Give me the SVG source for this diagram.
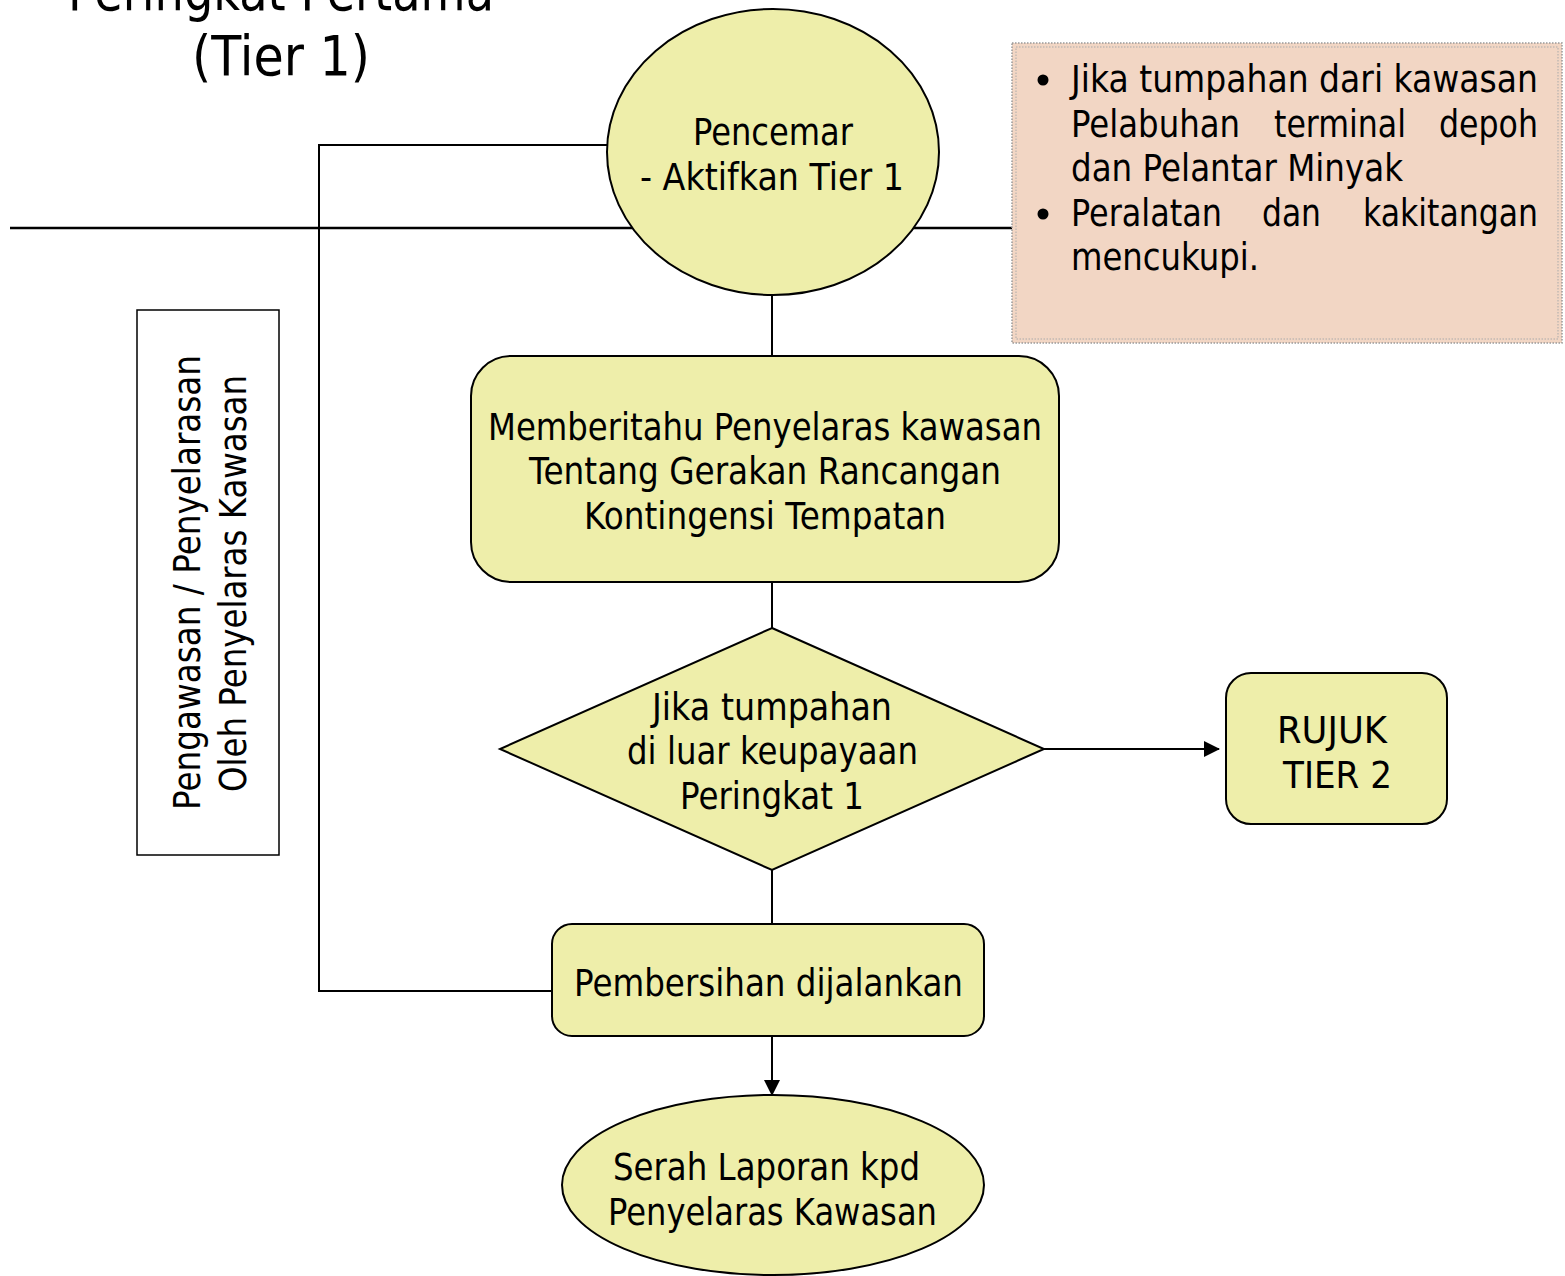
<svg xmlns="http://www.w3.org/2000/svg" width="1565" height="1276" viewBox="0 0 1565 1276">
<style>
text{font-family:"DejaVu Sans","Liberation Sans",sans-serif;fill:#000;font-size:37px}
.node{fill:#eeeeaa;stroke:#000;stroke-width:2}
.ln{fill:none;stroke:#000;stroke-width:2}
.title{font-size:55px}
</style>
<defs>
<marker id="ah" markerUnits="userSpaceOnUse" markerWidth="16" markerHeight="16" refX="15" refY="8" orient="auto">
<path d="M0,0 L16,8 L0,16 Z" fill="#000"/>
</marker>
</defs>
<rect width="1565" height="1276" fill="#fff"/>
<g id="title">
<text class="title" x="68" y="10" textLength="426" lengthAdjust="spacingAndGlyphs">Peringkat Pertama</text>
<text class="title" x="192" y="75" textLength="178" lengthAdjust="spacingAndGlyphs">(Tier 1)</text>
</g>
<g id="connectors">
<line x1="10" y1="228" x2="1013" y2="228" stroke="#000" stroke-width="2.5"/>
<polyline class="ln" points="607,145 319,145 319,991 552,991"/>
<line class="ln" x1="772" y1="295" x2="772" y2="356"/>
<line class="ln" x1="772" y1="582" x2="772" y2="628"/>
<line class="ln" x1="772" y1="870" x2="772" y2="924"/>
<line class="ln" x1="772" y1="1036" x2="772" y2="1095" marker-end="url(#ah)"/>
<line class="ln" x1="1044" y1="749" x2="1219" y2="749" marker-end="url(#ah)"/>
</g>
<g id="pencemar">
<ellipse class="node" cx="773" cy="152" rx="166" ry="143"/>
<text x="693" y="145" textLength="160" lengthAdjust="spacingAndGlyphs">Pencemar</text>
<text x="640" y="190" textLength="264" lengthAdjust="spacingAndGlyphs">- Aktifkan Tier 1</text>
</g>
<g id="note">
<rect x="1012" y="43" width="550" height="300" fill="#f2d6c4" stroke="#999" stroke-width="1.5" stroke-dasharray="1.5 1.5"/>
<rect x="1016" y="47" width="542" height="292" fill="none" stroke="#aaa" stroke-width="1" stroke-dasharray="1.5 1.5"/>
<circle cx="1043" cy="80" r="5.5" fill="#000"/>
<circle cx="1043" cy="214" r="5.5" fill="#000"/>
<text x="1071" y="92" textLength="467" lengthAdjust="spacingAndGlyphs">Jika tumpahan dari kawasan</text>
<text x="1071" y="137" textLength="169" lengthAdjust="spacingAndGlyphs">Pelabuhan</text>
<text x="1274" y="137" textLength="132" lengthAdjust="spacingAndGlyphs">terminal</text>
<text x="1439" y="137" textLength="99" lengthAdjust="spacingAndGlyphs">depoh</text>
<text x="1071" y="181" textLength="332" lengthAdjust="spacingAndGlyphs">dan Pelantar Minyak</text>
<text x="1071" y="226" textLength="151" lengthAdjust="spacingAndGlyphs">Peralatan</text>
<text x="1262" y="226" textLength="59" lengthAdjust="spacingAndGlyphs">dan</text>
<text x="1363" y="226" textLength="175" lengthAdjust="spacingAndGlyphs">kakitangan</text>
<text x="1071" y="270" textLength="188" lengthAdjust="spacingAndGlyphs">mencukupi.</text>
</g>
<g id="pengawasan">
<rect x="137" y="310" width="142" height="545" fill="#fff" stroke="#000" stroke-width="1.5"/>
<text transform="translate(200,810) rotate(-90)" textLength="455" lengthAdjust="spacingAndGlyphs">Pengawasan / Penyelarasan</text>
<text transform="translate(246,792) rotate(-90)" textLength="417" lengthAdjust="spacingAndGlyphs">Oleh Penyelaras Kawasan</text>
</g>
<g id="memberitahu">
<rect class="node" x="471" y="356" width="588" height="226" rx="40" ry="40"/>
<text x="488" y="440" textLength="554" lengthAdjust="spacingAndGlyphs">Memberitahu Penyelaras kawasan</text>
<text x="529" y="484" textLength="472" lengthAdjust="spacingAndGlyphs">Tentang Gerakan Rancangan</text>
<text x="584" y="529" textLength="362" lengthAdjust="spacingAndGlyphs">Kontingensi Tempatan</text>
</g>
<g id="keputusan">
<polygon class="node" points="772,628 1044,749 772,870 500,749"/>
<text x="652" y="720" textLength="240" lengthAdjust="spacingAndGlyphs">Jika tumpahan</text>
<text x="627" y="764" textLength="291" lengthAdjust="spacingAndGlyphs">di luar keupayaan</text>
<text x="680" y="809" textLength="184" lengthAdjust="spacingAndGlyphs">Peringkat 1</text>
</g>
<g id="rujuk">
<rect class="node" x="1226" y="673" width="221" height="151" rx="25" ry="25"/>
<text x="1277" y="743" textLength="110" lengthAdjust="spacingAndGlyphs">RUJUK</text>
<text x="1283" y="788" textLength="109" lengthAdjust="spacingAndGlyphs">TIER 2</text>
</g>
<g id="pembersihan">
<rect class="node" x="552" y="924" width="432" height="112" rx="20" ry="20"/>
<text x="574" y="996" textLength="389" lengthAdjust="spacingAndGlyphs">Pembersihan dijalankan</text>
</g>
<g id="serah">
<ellipse class="node" cx="773" cy="1185" rx="211" ry="90"/>
<text x="613" y="1180" textLength="307" lengthAdjust="spacingAndGlyphs">Serah Laporan kpd</text>
<text x="608" y="1225" textLength="329" lengthAdjust="spacingAndGlyphs">Penyelaras Kawasan</text>
</g>
</svg>
